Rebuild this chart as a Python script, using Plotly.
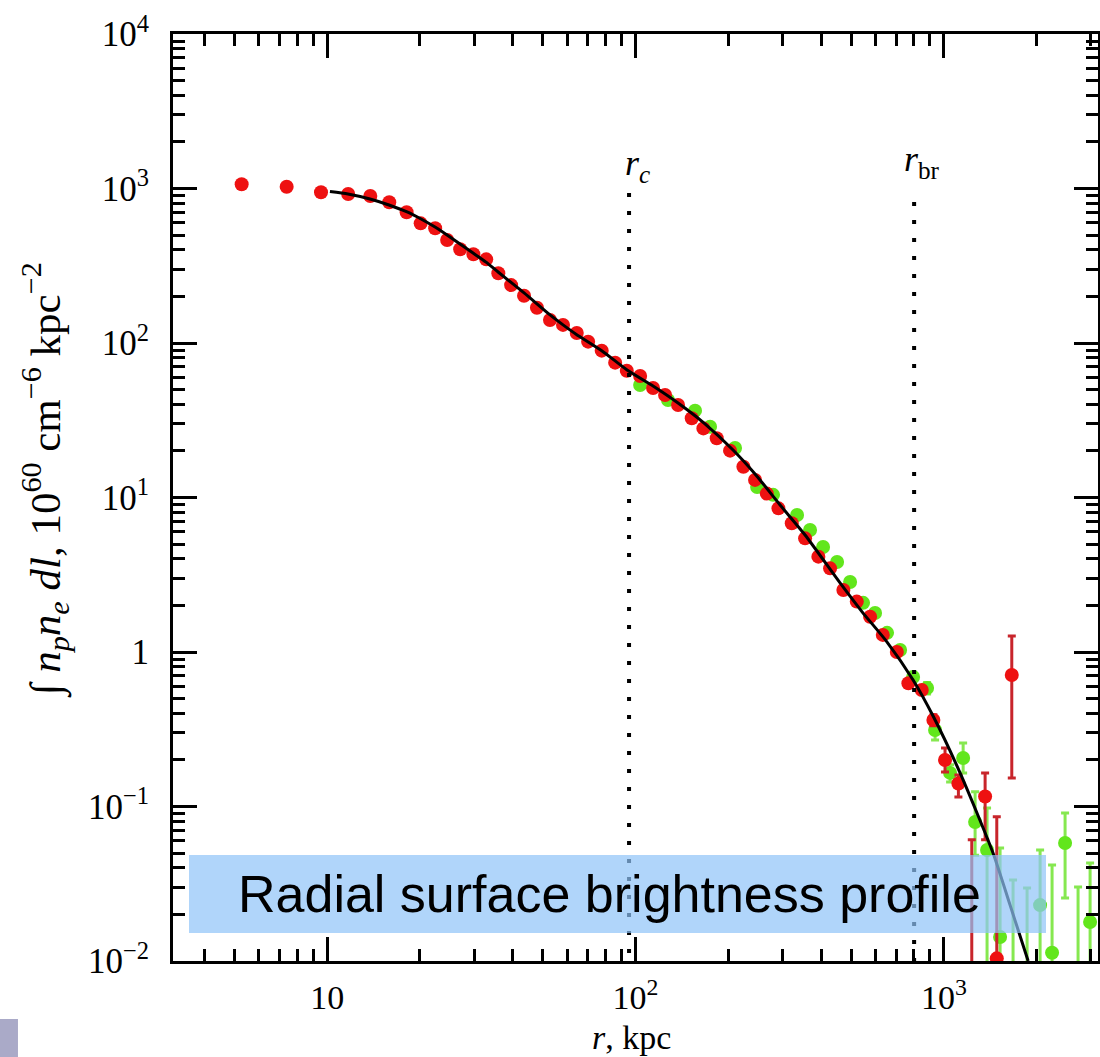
import math
import plotly.graph_objects as go

# ---------------- data ----------------
# red data set (r in kpc, value in 1e60 cm^-6 kpc^-2)
red_r = [5.28, 7.39, 9.55, 11.7, 13.8, 15.9, 18.1, 20.1, 22.4, 24.5, 27.0, 29.8,
         32.8, 35.9, 39.5, 43.5, 47.9, 52.8, 58.2, 64.5, 70.2, 77.7, 85.9, 93.7,
         103.5, 114.0, 124.7, 137.4, 152.2, 166.0, 183.4, 202.6, 223.8, 244.2,
         266.6, 290.7, 321.2, 354.8, 391.8, 427.6, 472.2, 522.0, 576.6, 633.9,
         703.9, 767.4, 848.0, 925.0, 1009, 1115, 1232, 1361, 1485, 1661]
red_v = [1065, 1027, 945, 921, 894, 814, 702, 595, 553, 464, 404, 375,
         348, 283, 237, 202, 169, 141, 131, 116, 102, 89.2, 74.6, 66.2,
         61.1, 51.1, 46.1, 39.7, 32.6, 28.0, 24.2, 20.1, 15.8, 13.0,
         10.6, 8.51, 6.81, 5.44, 4.14, 3.48, 2.52, 2.12, 1.69, 1.29,
         1.00, 0.627, 0.568, 0.363, 0.200, 0.141, 0.006, 0.116, 0.0104, 0.710]
red_err_plus = [None] * 46 + [0.03, 0.03, 0.039, 0.019, 0.055, 0.049, 0.0755, 0.559]
red_err_minus = [None] * 46 + [0.03, 0.03, 0.033, 0.026, 0.003, 0.055, 0.006, 0.557]

# green data set
green_r = [103.5, 127.5, 156.0, 174.5, 210.3, 248.0, 279.3, 334.2, 368.2, 405.8,
           450.6, 496.6, 547.1, 598.4, 654.5, 721.4, 794.9, 882.4, 936.7, 1048,
           1155, 1263, 1381, 1522, 1677, 1862, 2052, 2244, 2473, 2725, 2981]
green_v = [53.5, 42.8, 36.5, 28.7, 20.9, 11.7, 10.4, 7.70, 6.16, 4.78,
           3.82, 2.84, 2.08, 1.79, 1.33, 1.03, 0.689, 0.585, 0.313, 0.165,
           0.206, 0.0794, 0.0523, 0.0143, 0.006, 0.006, 0.0230, 0.0113, 0.0580, 0.006, 0.0179]
green_err_plus = [None] * 16 + [0.05, 0.05, 0.039, 0.021, 0.052, 0.045, 0.0455, 0.0396,
                                0.0274, 0.0237, 0.0293, 0.0305, 0.0328, 0.0241, 0.0252]
green_err_minus = [None] * 16 + [0.05, 0.05, 0.044, 0.021, 0.041, 0.031, 0.047, 0.0093,
                                 0.003, 0.003, 0.018, 0.008, 0.0324, 0.003, 0.0129]

# model curve
model_r = [10.21, 11.68, 13.77, 15.87, 18.16, 20.16, 22.38, 24.48, 26.97, 29.73,
           32.75, 35.84, 43.51, 52.83, 58.21, 64.15, 77.91, 93.89, 114.0, 137.4,
           166.9, 207.2, 244.2, 294.4, 354.8, 460.7, 543.1, 654.5, 794.9, 922.9,
           1129, 1444, 1640, 1877]
model_v = [956, 921, 855, 782, 705, 635, 563, 500, 437, 382,
           334, 288, 211, 152, 131, 114, 88.8, 66.9, 52.7, 40.9,
           30.3, 20.3, 14.2, 8.94, 5.72, 2.80, 1.82, 1.16, 0.659, 0.385,
           0.165, 0.0500, 0.0230, 0.0100]

# characteristic radii
r_c = 95.3
r_br = 801.0
rc_top = 935
rbr_top = 818
y_bottom = 0.01

x_tickvals = [10, 100, 1000]
x_ticktext = ["10", "10<sup>2</sup>", "10<sup>3</sup>"]
y_tickvals = [0.01, 0.1, 1, 10, 100, 1000, 10000]
y_ticktext = ["10<sup>\u22122</sup>", "10<sup>\u22121</sup>", "1", "10<sup>1</sup>",
              "10<sup>2</sup>", "10<sup>3</sup>", "10<sup>4</sup>"]

x_minor = [m * 10 ** k for k in range(0, 4) for m in range(2, 10) if 3.16 < m * 10 ** k < 3162]
y_minor = [m * 10.0 ** k for k in range(-2, 4) for m in range(2, 10)]

SERIF = "Liberation Serif"
RED = "#ee1111"
RED_ERR = "#c8252b"
GREEN = "#62e61c"
GREEN_ERR = "#86e850"

fig = go.Figure()

fig.add_trace(go.Scatter(
    x=green_r, y=green_v, mode="markers",
    marker=dict(color=GREEN, size=14),
    error_y=dict(type="data", symmetric=False, array=green_err_plus,
                 arrayminus=green_err_minus, color=GREEN_ERR, thickness=3, width=4),
    showlegend=False))

fig.add_trace(go.Scatter(
    x=red_r, y=red_v, mode="markers",
    marker=dict(color=RED, size=14),
    error_y=dict(type="data", symmetric=False, array=red_err_plus,
                 arrayminus=red_err_minus, color=RED_ERR, thickness=3, width=4),
    showlegend=False))

fig.add_trace(go.Scatter(
    x=model_r, y=model_v, mode="lines",
    line=dict(color="black", width=3, shape="spline", smoothing=0.6),
    showlegend=False))

for rr, top in [(r_c, rc_top), (r_br, rbr_top)]:
    fig.add_trace(go.Scatter(
        x=[rr, rr], y=[top, y_bottom], mode="lines",
        line=dict(color="black", width=4, dash="4px,14px"),
        showlegend=False))

axis_common = dict(
    type="log", showline=True, linewidth=3, linecolor="black", mirror="allticks",
    ticks="inside", ticklen=24, tickwidth=3, tickcolor="black",
    showgrid=False, zeroline=False,
    automargin=False,
)

fig.update_xaxes(
    **axis_common, range=[0.5, 3.5],
    tickmode="array", tickvals=x_tickvals, ticktext=x_ticktext,
    tickfont=dict(family=SERIF, size=34, color="black"),
    ticklabelstandoff=4,
    minor=dict(tickmode="array", tickvals=x_minor, ticks="inside", ticklen=12,
               tickwidth=3, tickcolor="black", showgrid=False),
)
fig.update_yaxes(
    **axis_common, range=[-2, 4],
    tickmode="array", tickvals=y_tickvals, ticktext=y_ticktext,
    tickfont=dict(family=SERIF, size=35, color="black"),
    ticklabelstandoff=14,
    minor=dict(tickmode="array", tickvals=y_minor, ticks="inside", ticklen=12,
               tickwidth=3, tickcolor="black", showgrid=False),
)

annotations = [
    dict(x=math.log10(r_c), y=0.8585, xref="x", yref="paper", xanchor="left",
         yanchor="middle", xshift=-6, showarrow=False,
         text="<i>r<sub>c</sub></i>", font=dict(family=SERIF, size=36, color="black")),
    dict(x=math.log10(r_br), y=0.862, xref="x", yref="paper", xanchor="left",
         yanchor="middle", xshift=-12, showarrow=False,
         text="<i>r</i><sub>br</sub>", font=dict(family=SERIF, size=36, color="black")),
    dict(x=0.496, y=-0.082, xref="paper", yref="paper", xanchor="center",
         yanchor="middle", showarrow=False,
         text="<i>r</i>, kpc", font=dict(family=SERIF, size=34, color="black")),
    dict(x=-0.138, y=0.519, xref="paper", yref="paper", xanchor="center",
         yanchor="middle", showarrow=False, textangle=-90,
         text="\u222b <i>n<sub>p</sub>n<sub>e</sub> dl</i>, 10<sup>60</sup> cm<sup>\u22126</sup> kpc<sup>\u22122</sup>",
         font=dict(family=SERIF, size=43, color="black")),
    dict(x=0.4724, y=0.0723, xref="paper", yref="paper", xanchor="center",
         yanchor="middle", showarrow=False,
         text="Radial surface brightness profile",
         font=dict(family="Liberation Sans", size=52, color="black")),
]

shapes = [
    dict(type="rect", xref="paper", yref="paper", x0=0.0173, x1=0.9438, y0=0.0302, y1=0.1143,
         fillcolor="rgb(142,195,248)", opacity=0.7, line=dict(width=0), layer="above"),
    dict(type="rect", xref="paper", yref="paper", x0=-0.19, x1=-0.1676, y0=-0.12, y1=-0.0626,
         fillcolor="#aaaac8", line=dict(width=0), layer="above"),
]

fig.update_layout(
    width=1100, height=1057,
    margin=dict(l=173, r=2, t=34, b=96),
    paper_bgcolor="white", plot_bgcolor="white",
    showlegend=False,
    annotations=annotations,
    shapes=shapes,
)

fig.write_html("out.html")
